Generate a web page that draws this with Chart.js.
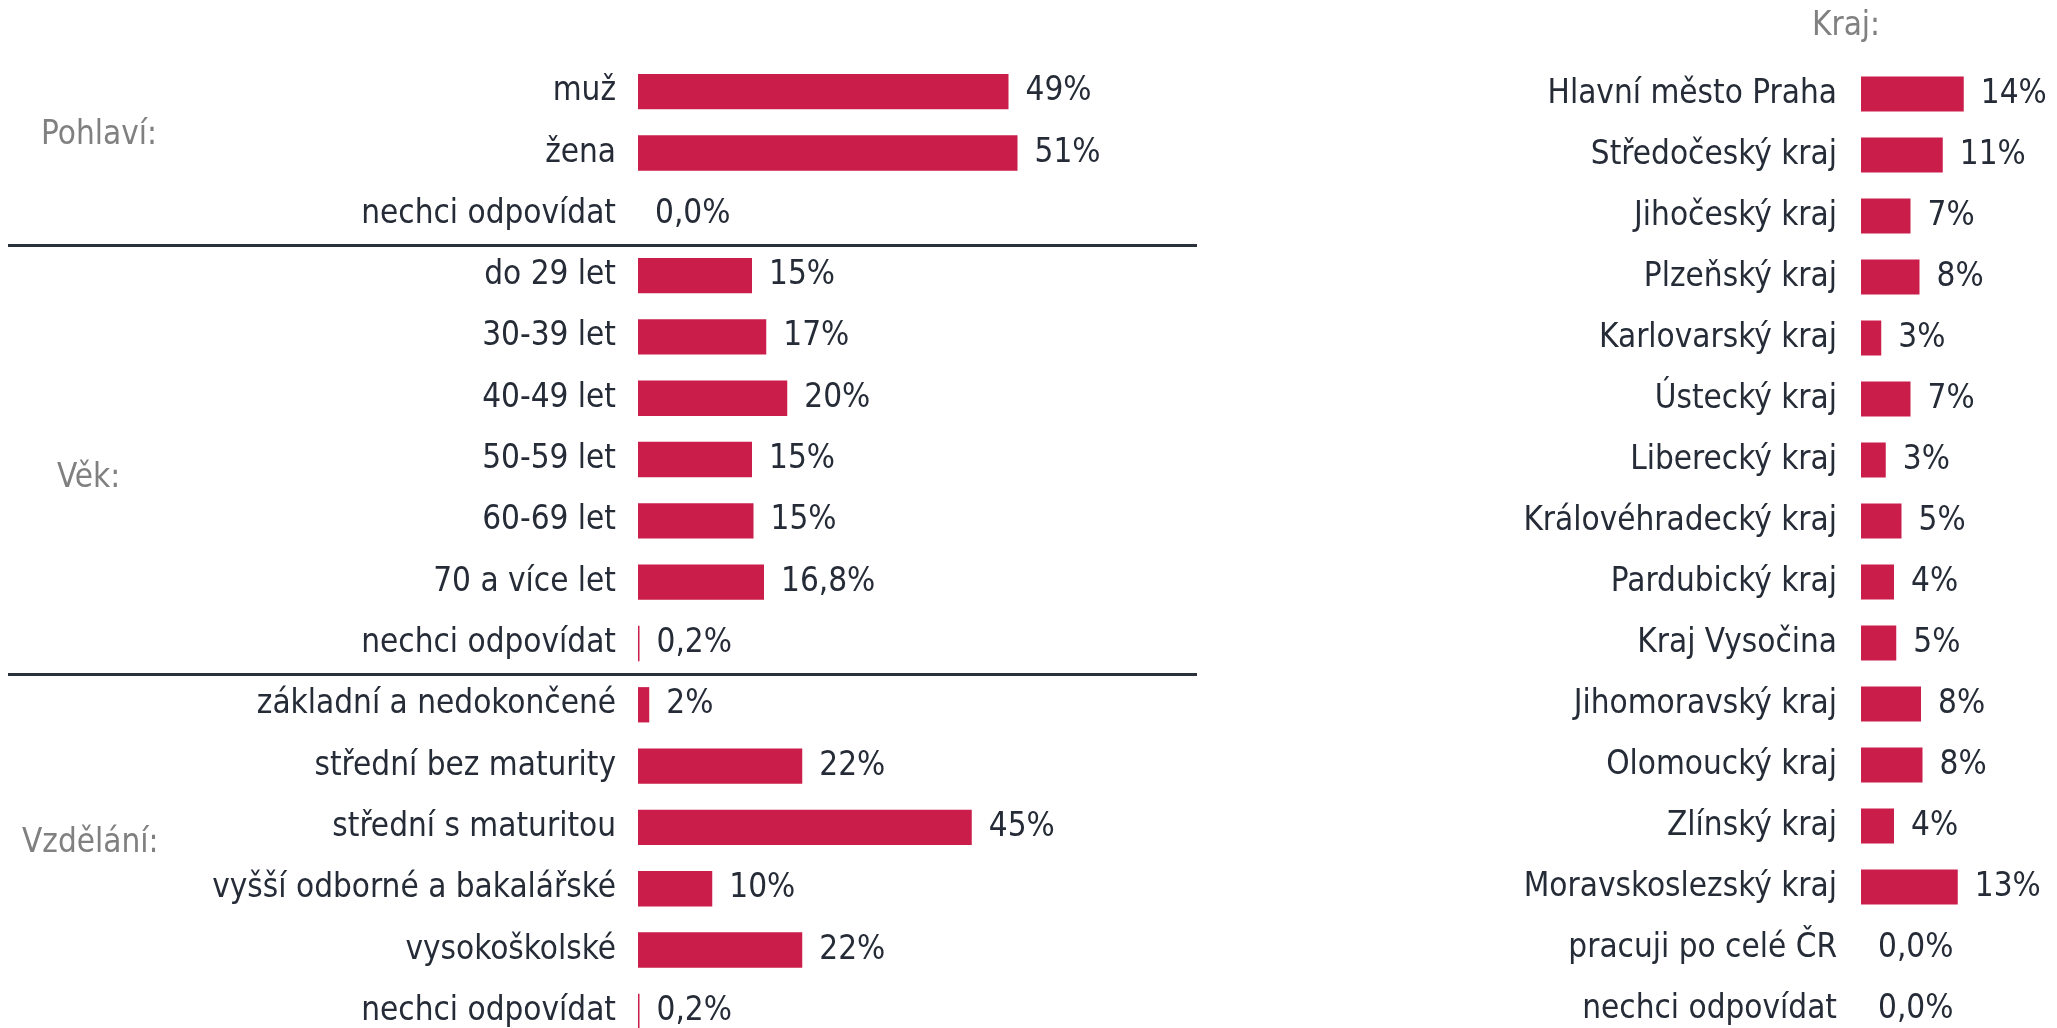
<!DOCTYPE html>
<html lang="cs">
<head>
<meta charset="utf-8">
<title>Struktura respondentů</title>
<script src="https://cdn.jsdelivr.net/npm/chart.js@4.4.1/dist/chart.umd.min.js"></script>
<style>
  html, body { margin: 0; padding: 0; background: #fff; overflow: hidden; }
  #wrap { position: relative; width: 2057px; height: 1028px; }
  #left-chart  { position: absolute; left: 0;      top: 0; }
  #right-chart { position: absolute; left: 1200px; top: 0; }
</style>
</head>
<body>
<div id="wrap">
  <canvas id="left-chart"  width="1200" height="1042"></canvas>
  <canvas id="right-chart" width="857"  height="1042"></canvas>
</div>
<script>
// ── Data ──────────────────────────────────────────────────────────────────────

const LEFT_CATEGORIES = [
  'muž', 'žena', 'nechci odpovídat',
  'do 29 let', '30-39 let', '40-49 let', '50-59 let', '60-69 let', '70 a více let', 'nechci odpovídat',
  'základní a nedokončené', 'střední bez maturity', 'střední s maturitou',
  'vyšší odborné a bakalářské', 'vysokoškolské', 'nechci odpovídat',
];
const LEFT_VALUES = [
  49.4, 50.6, 0,
  15.2, 17.1, 19.9, 15.2, 15.4, 16.8, 0.2,
  1.5, 21.9, 44.5, 9.9, 21.9, 0.2,
];
const LEFT_VALUE_LABELS = [
  '49%', '51%', '0,0%',
  '15%', '17%', '20%', '15%', '15%', '16,8%', '0,2%',
  '2%', '22%', '45%', '10%', '22%', '0,2%',
];

// group titles and the row index (fractional) they sit on
const LEFT_GROUPS     = ['Pohlaví:', 'Věk:', 'Vzdělání:'];
const LEFT_GROUP_ROWS = [0.72, 6.3, 12.26];
const LEFT_SEPARATORS = [2.5, 9.5];

const RIGHT_TITLE = 'Kraj:';
const RIGHT_CATEGORIES = [
  'Hlavní město Praha', 'Středočeský kraj', 'Jihočeský kraj', 'Plzeňský kraj',
  'Karlovarský kraj', 'Ústecký kraj', 'Liberecký kraj', 'Královéhradecký kraj',
  'Pardubický kraj', 'Kraj Vysočina', 'Jihomoravský kraj', 'Olomoucký kraj',
  'Zlínský kraj', 'Moravskoslezský kraj', 'pracuji po celé ČR', 'nechci odpovídat',
];
const RIGHT_VALUES = [
  13.7, 10.9, 6.6, 7.8, 2.7, 6.6, 3.3, 5.4,
  4.4, 4.7, 8.0, 8.2, 4.4, 12.9, 0, 0,
];
const RIGHT_VALUE_LABELS = [
  '14%', '11%', '7%', '8%', '3%', '7%', '3%', '5%',
  '4%', '5%', '8%', '8%', '4%', '13%', '0,0%', '0,0%',
];

// ── Style ─────────────────────────────────────────────────────────────────────

const BAR_COLOR   = '#ca1d4a';
const TEXT_COLOR  = '#262c37';
const GROUP_COLOR = '#808080';
const RULE_COLOR  = '#2b313b';
const FONT_FAMILY = "'DejaVu Sans Condensed', 'DejaVu Sans', sans-serif";
const FONT_SIZE   = 33;

Chart.defaults.font.family = FONT_FAMILY;
Chart.defaults.animation = false;

// ── Plugins ───────────────────────────────────────────────────────────────────

const valueLabels = {
  id: 'valueLabels',
  afterDatasetsDraw(chart, _args, opts) {
    const { ctx } = chart;
    const meta = chart.getDatasetMeta(0);
    ctx.save();
    ctx.font = `${FONT_SIZE}px ${FONT_FAMILY}`;
    ctx.fillStyle = TEXT_COLOR;
    ctx.textAlign = 'left';
    ctx.textBaseline = 'middle';
    meta.data.forEach((bar, i) => {
      ctx.fillText(opts.labels[i], bar.x + 17, bar.y);
    });
    ctx.restore();
  },
};

const decorations = {
  id: 'decorations',
  afterDraw(chart, _args, opts) {
    const { ctx } = chart;
    const y = chart.scales.y;
    ctx.save();

    (opts.rules ?? []).forEach(r => {
      const py = Math.round(y.getPixelForValue(r)) + 0.5;
      ctx.strokeStyle = RULE_COLOR;
      ctx.lineWidth = 3;
      ctx.beginPath();
      ctx.moveTo(opts.ruleFrom, py);
      ctx.lineTo(opts.ruleTo, py);
      ctx.stroke();
    });

    ctx.font = `${FONT_SIZE}px ${FONT_FAMILY}`;
    ctx.fillStyle = GROUP_COLOR;
    ctx.textAlign = 'left';
    ctx.textBaseline = 'middle';
    (opts.titles ?? []).forEach(t => {
      ctx.fillText(t.text, t.x, y.getPixelForValue(t.row));
    });
    ctx.restore();
  },
};

// ── Chart factory ─────────────────────────────────────────────────────────────

function _barChart(canvasId, cfg) {
  return new Chart(document.getElementById(canvasId), {
    type: 'bar',
    data: {
      labels: cfg.categories,
      datasets: [{
        data: cfg.values,
        backgroundColor: BAR_COLOR,
        borderWidth: 0,
        categoryPercentage: 1,
        barPercentage: 0.576,
      }],
    },
    options: {
      indexAxis: 'y',
      responsive: false,
      layout: { padding: cfg.padding },
      plugins: {
        legend: { display: false },
        tooltip: { enabled: false },
        valueLabels: { labels: cfg.valueLabels },
        decorations: cfg.decorations,
      },
      scales: {
        x: { display: false, min: 0, max: cfg.max },
        y: {
          type: 'category',
          offset: true,
          grid: { display: false, drawTicks: false },
          border: { display: false },
          ticks: {
            autoSkip: false,
            color: TEXT_COLOR,
            font: { size: FONT_SIZE, family: FONT_FAMILY },
            padding: cfg.tickPad,
          },
          // fixed label column, no extra room for half-labels at the ends
          afterFit: scale => {
            scale.width = cfg.axisWidth;
            scale.paddingTop = 0;
            scale.paddingBottom = 0;
          },
        },
      },
    },
    plugins: [valueLabels, decorations],
  });
}

// ── Render ────────────────────────────────────────────────────────────────────

_barChart('left-chart', {
  categories: LEFT_CATEGORIES,
  values: LEFT_VALUES,
  valueLabels: LEFT_VALUE_LABELS,
  max: 60,
  axisWidth: 638,
  tickPad: 22,
  padding: { top: 61, bottom: 0, left: 0, right: 112 },
  decorations: {
    rules: LEFT_SEPARATORS,
    ruleFrom: 8,
    ruleTo: 1197,
    titles: LEFT_GROUPS.map((text, i) => ({
      text, row: LEFT_GROUP_ROWS[i], x: [41, 57, 22][i],
    })),
  },
});

_barChart('right-chart', {
  categories: RIGHT_CATEGORIES,
  values: RIGHT_VALUES,
  valueLabels: RIGHT_VALUE_LABELS,
  max: 20,
  axisWidth: 661,
  tickPad: 24,
  padding: { top: 63.5, bottom: 2.5, left: 0, right: 46 },
  decorations: {
    titles: [{ text: RIGHT_TITLE, row: -1.1, x: 612 }],
  },
});
</script>
</body>
</html>
